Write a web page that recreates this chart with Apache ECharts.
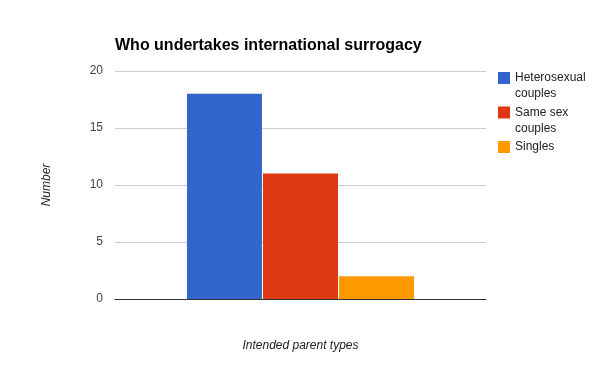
<!DOCTYPE html>
<html><head><meta charset="utf-8">
<script src="https://cdn.jsdelivr.net/npm/echarts@6/dist/echarts.min.js"></script>
<style>html,body{margin:0;padding:0;background:#fff}#c{width:600px;height:371px}</style>
</head><body><div id="c"></div>
<script>
var categories = ['Intended parent types'];
var seriesNames = ['Heterosexual couples', 'Same sex couples', 'Singles'];
var legendLabels = ['Heterosexual\ncouples', 'Same sex\ncouples', 'Singles'];
var heterosexual = [18];
var sameSex = [11];
var singles = [2];
var yTicks = [0, 5, 10, 15, 20];

var colors = ['#3366cc', '#dc3912', '#ff9900'];
var values = [heterosexual, sameSex, singles];
var font = 'Arial, "Liberation Sans", sans-serif';
var chart = echarts.init(document.getElementById('c'), null, {renderer: 'canvas'});

var legendTops = [54, 88.5, 139];
var legends = seriesNames.map(function (n, i) {
  var multi = legendLabels[i].indexOf('\n') >= 0;
  return {
    orient: 'vertical', left: 498, top: legendTops[i], padding: 0,
    itemWidth: 12, itemHeight: 12, itemGap: 0, icon: 'rect',
    selectedMode: false,
    data: [n],
    formatter: function () { return multi ? ' \n' + legendLabels[i] : legendLabels[i]; },
    textStyle: {fontFamily: font, fontSize: 12, color: '#222', lineHeight: 16}
  };
});

chart.setOption({
  animation: false,
  color: colors,
  title: {
    text: 'Who undertakes international surrogacy', left: 110, top: 33,
    textStyle: {fontFamily: font, fontSize: 16, fontWeight: 'bold', color: '#000'}
  },
  legend: legends,
  grid: {left: 115, right: 114, top: 71, bottom: 72},
  xAxis: {
    type: 'category', data: categories,
    name: 'Intended parent types', nameLocation: 'middle', nameGap: 41,
    nameTextStyle: {fontFamily: font, fontSize: 12, fontStyle: 'italic', color: '#222'},
    axisLabel: {show: false}, axisTick: {show: false},
    axisLine: {lineStyle: {color: '#333', width: 1}}
  },
  yAxis: {
    type: 'value', min: yTicks[0], max: yTicks[yTicks.length - 1], interval: 5,
    name: 'Number', nameLocation: 'middle', nameGap: 62, nameRotate: 90,
    nameTextStyle: {fontFamily: font, fontSize: 12, fontStyle: 'italic', color: '#222'},
    axisLabel: {fontFamily: font, fontSize: 12, color: '#444', margin: 12},
    axisLine: {show: false}, axisTick: {show: false},
    splitLine: {lineStyle: {color: '#cccccc'}}
  },
  series: seriesNames.map(function (n, i) {
    return {
      name: n, type: 'bar', data: values[i], barWidth: 75, barGap: '1.4%',
      itemStyle: {color: colors[i]}
    };
  })
});
</script></body></html>
